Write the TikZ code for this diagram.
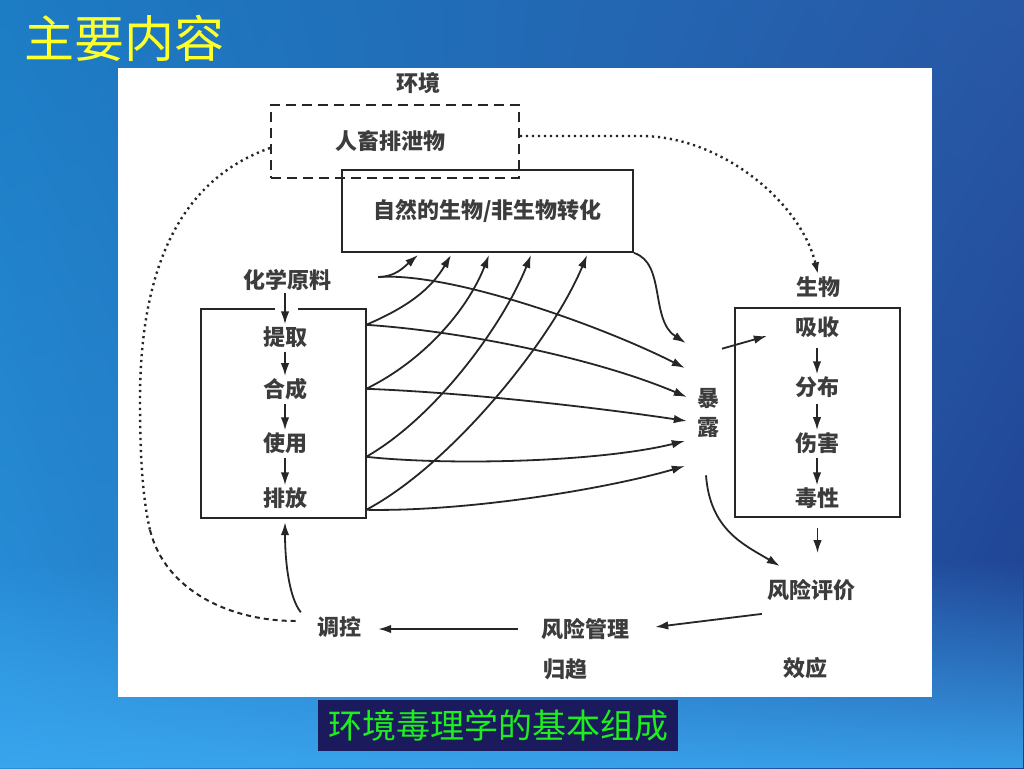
\documentclass[tikz,border=0pt]{standalone}
\usepackage{fontspec}
\newfontfamily\cjk{Noto Sans CJK SC}
\usetikzlibrary{arrows.meta,fadings,shadings}
\definecolor{ink}{HTML}{262626}
\definecolor{bgUL}{HTML}{1C7CC4}
\definecolor{bgUR}{HTML}{2858A6}
\definecolor{bgLL}{HTML}{2A90DA}
\definecolor{bgLR}{HTML}{1E3F90}
\definecolor{glow}{HTML}{3AA8F0}
\definecolor{capnavy}{HTML}{1B1A5C}
\definecolor{capgreen}{HTML}{1EEE1E}
\definecolor{ttlyellow}{HTML}{FFFF2A}
\begin{document}
\begin{tikzpicture}[x=1pt,y=-1pt,
  txt/.style={font=\cjk\bfseries\fontsize{22}{26}\selectfont, text=ink!90, inner sep=2pt},
  ttlstyle/.style={font=\cjk\fontsize{50}{56}\selectfont, text=ttlyellow, inner sep=0pt},
  capbox/.style={font=\cjk\fontsize{34}{38}\selectfont, text=capgreen, fill=capnavy,
    minimum width=360pt, minimum height=51pt, inner sep=0pt},
  box/.style={draw=ink, line width=1.9pt},
  dbox/.style={draw=ink, line width=1.9pt, dash pattern=on 10pt off 6pt},
  arr/.style={draw=ink, line width=1.8pt, -{Latex[length=13pt,width=8.5pt]}},
  dotline/.style={draw=ink, line width=2.4pt, dash pattern=on 2.2pt off 3.8pt},
  dashline/.style={draw=ink, line width=2pt, dash pattern=on 5pt off 4pt},
]
\useasboundingbox (0,0) rectangle (1024,768);
% background
\shade[upper left=bgUL, upper right=bgUR, lower left=bgLL, lower right=bgLR] (0,0) rectangle (1024,768);
\fill[glow, path fading=north, opacity=0.9] (0,560) rectangle (1024,768);
\fill[white] (118,68) rectangle (932,697);

% title and caption
\node[ttlstyle] (ttl) at (124,38) {主要内容};
\node[capbox] (cap) at (498,725.5) {环境毒理学的基本组成};

% top part
\node[txt] (env) at (418,83) {环境};
\node[dbox, minimum width=248pt, minimum height=73pt] (pc) at (395,141.5) {};
\node[txt] (pct) at (390,141) {人畜排泄物};
\node[box, txt, minimum width=291pt, minimum height=82pt] (zr) at (487.5,211) {自然的生物/非生物转化};

% left box
\node[txt] (hx) at (287,280) {化学原料};
\node[minimum width=165pt, minimum height=209pt, inner sep=0pt] (lb) at (283.5,413.5) {};
\draw[box] ([xshift=-8.5pt]lb.north) -| (lb.south west) -| (lb.north east) -- ([xshift=14.5pt]lb.north);
\node[txt] (tq) at (285,337) {提取};
\node[txt] (hc) at (285,389) {合成};
\node[txt] (sy) at (285,443) {使用};
\node[txt] (pf) at (285,498) {排放};
\draw[arr] (tq.north |- hx.south) -- (tq.north);
\draw[arr, shorten <=2pt] (tq.south) -- (hc.north);
\draw[arr, shorten <=2pt] (hc.south) -- (sy.north);
\draw[arr, shorten <=2pt] (sy.south) -- (pf.north);

% right box
\node[txt] (sw) at (818,287) {生物};
\node[box, minimum width=165pt, minimum height=209pt] (rb) at (817.5,412.5) {};
\node[txt] (xs) at (817,327) {吸收};
\node[txt] (fb) at (817,387) {分布};
\node[txt] (sh) at (817,443) {伤害};
\node[txt] (dx) at (817,498) {毒性};
\draw[arr, shorten <=8pt] (xs.south) -- (fb.north);
\draw[arr, shorten <=4pt] (fb.south) -- (sh.north);
\draw[arr, shorten <=2pt] (sh.south) -- (dx.north);

% exposure
\node[txt, align=center, font=\cjk\bfseries\fontsize{22}{29}\selectfont] (bl) at (708,413) {暴\\露};

% bottom row
\node[txt] (fx) at (811,590) {风险评价};
\node[txt] (fg) at (585,629) {风险管理};
\node[txt] (tk) at (339,627) {调控};
\node[txt] (gq) at (565,669) {归趋};
\node[txt] (xy) at (805,668) {效应};

% fan coordinates
\coordinate (s0) at ([shift={(45,-3)}]hx.east);
\coordinate (s1) at ([shift={(0,16)}]lb.north east);
\coordinate (s2) at ([shift={(0,80)}]lb.north east);
\coordinate (s3) at ([shift={(0,148)}]lb.north east);
\coordinate (s4) at ([shift={(0,201)}]lb.north east);
\coordinate (u0) at ([shift={(77,2)}]zr.south west);
\coordinate (u1) at ([shift={(110,2)}]zr.south west);
\coordinate (u2) at ([shift={(148,2)}]zr.south west);
\coordinate (u3) at ([shift={(190,2)}]zr.south west);
\coordinate (u4) at ([shift={(246,2)}]zr.south west);
\coordinate (e0) at ([shift={(-9,-70)}]bl.west);
\coordinate (e1) at ([shift={(-10,-45)}]bl.west);
\coordinate (e2) at ([shift={(-8,-16)}]bl.west);
\coordinate (e3) at ([shift={(-8,8)}]bl.west);
\coordinate (e4) at ([shift={(-10,28)}]bl.west);
\coordinate (e5) at ([shift={(-10,53)}]bl.west);

% upward curves
\draw[arr] (s0) .. controls +(17,0) and +(-14,12) .. (u0);
\draw[arr] (s1) .. controls +(42,-18) and +(-20,34) .. (u1);
\draw[arr] (s2) .. controls +(57,-28) and +(-22,56) .. (u2);
\draw[arr] (s3) .. controls +(70,-40) and +(-28,70) .. (u3);
\draw[arr] (s4) .. controls +(85,-45) and +(-35,85) .. (u4);
% rightward curves
\draw[arr] (zr.south east) .. controls +(32,10) and +(-36,-23) .. (e0);
\draw[arr] (s0) .. controls +(72,-5) and +(-85,-43) .. (e1);
\draw[arr] (s1) .. controls +(104,7) and +(-87,-37) .. (e2);
\draw[arr] (s2) .. controls +(104,4) and +(-87,-13) .. (e3);
\draw[arr] (s3) .. controls +(84,9) and +(-85,21) .. (e4);
\draw[arr] (s4) .. controls +(104,2) and +(-75,22) .. (e5);

% exposure to uptake
\coordinate (b1) at ([shift={(14,-37.5)}]bl.north);
\coordinate (b2) at ([shift={(-26,9)}]xs.west);
\draw[arr] (b1) -- (b2);
% exposure to risk assessment
\coordinate (b3) at ([shift={(-2,35.5)}]bl.south);
\coordinate (b4) at ([shift={(15,-11)}]fx.north west);
\draw[arr] (b3) .. controls +(4,55) and +(-35,-21) .. (b4);
% toxicity to risk assessment
\draw[arr, shorten <=10pt, shorten >=24pt] (rb.south) -- (rb.south |- fx.north);
% risk assessment to risk management
\coordinate (r1) at ([shift={(-3,11)}]fx.south west);
\coordinate (r2) at ([shift={(24,-2)}]fg.east);
\draw[arr] (r1) -- (r2);
% risk management to control
\draw[arr, shorten <=21pt, shorten >=15pt] (fg.west) -- (fg.west -| tk.east);
% control to left box
\coordinate (k1) at ([shift={(-14,-2)}]tk.north west);
\coordinate (k2) at ([shift={(1.5,4)}]lb.south);
\draw[arr] (k1) .. controls +(-12,-15) and +(0,38) .. (k2);

% dotted connections
\coordinate (t0) at ([shift={(0,-5.5)}]pc.east);
\draw[dotline, -{Latex[length=12pt,width=8pt]}] (t0) -- ++(121,0) .. controls +(80,0) and +(-17,-72) .. (sw.north);
\coordinate (d0) at ([shift={(0,6.5)}]pc.west);
\coordinate (d1) at (140,400);
\coordinate (d2) at (150,530);
\coordinate (d3) at ([shift={(-19,-6)}]tk.west);
\draw[dotline] (d0) .. controls +(-91,32) and +(0,-130) .. (d1)
   .. controls +(0,60) and +(-7,-30) .. (d2);
\draw[dashline] (d2) .. controls +(15,60) and +(-67,0) .. (d3);
\end{tikzpicture}
\end{document}
